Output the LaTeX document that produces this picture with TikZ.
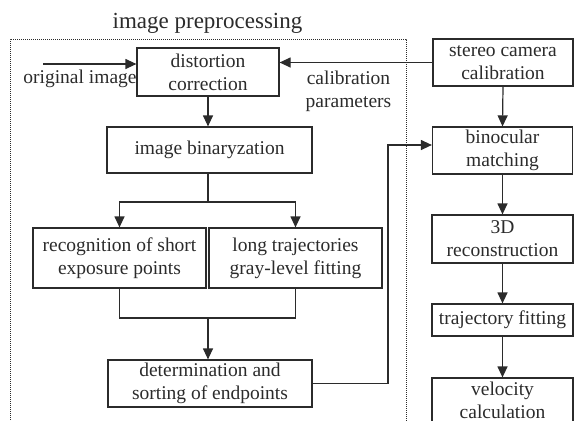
\documentclass[tikz,border=0pt]{standalone}
\usepackage{fontspec}
\setmainfont{Liberation Serif}
\usetikzlibrary{arrows.meta,calc}
\definecolor{ink}{HTML}{2B2B2B}
\begin{document}
\begin{tikzpicture}[x=1pt,y=-1pt,
  every node/.style={text=ink},
  box/.style={draw=ink,line width=1.2pt,inner sep=0pt,align=center,
    font=\fontsize{19.5}{23}\selectfont},
  lbl/.style={inner sep=0pt,align=center,font=\fontsize{19.5}{23}\selectfont},
  con/.style={draw=ink,line width=1.2pt},
  arr/.style={con,-{Triangle[length=11pt,width=10pt]}}]
\useasboundingbox (0,0) rectangle (574,421);
\clip (0,0) rectangle (574,421);
% dotted frame
\draw[ink,line width=1pt,dash pattern=on 1pt off 1pt] (10,440) -- (10,39) -- (406,39) -- (406,440);
\node[inner sep=0pt,font=\fontsize{23}{27}\selectfont] (title) at (207.5,23) {image preprocessing};
% nodes
\node[box,minimum width=142pt,minimum height=48pt] (dist) at (208,72) {distortion\\correction};
\node[box,minimum width=140pt,minimum height=47pt] (stereo) at (503,62.5) {stereo camera\\calibration};
\node[box,minimum width=205pt,minimum height=46pt] (bin) at (209.5,150) {image binaryzation};
\node[box,minimum width=140pt,minimum height=47pt] (binoc) at (502.5,150.5) {binocular\\matching};
\node[box,minimum width=173pt,minimum height=60pt] (recog) at (119.5,258) {recognition of short\\exposure points};
\node[box,minimum width=173pt,minimum height=60pt] (longt) at (295.5,258) {long trajectories\\gray-level fitting};
\node[box,minimum width=204pt,minimum height=47pt] (det) at (210,383.5) {determination and\\sorting of endpoints};
\node[box,minimum width=141pt,minimum height=48pt] (recon) at (502.5,239) {3D\\reconstruction};
\node[box,minimum width=141pt,minimum height=32pt] (traj) at (502.5,320) {trajectory fitting};
\node[box,minimum width=141pt,minimum height=44pt] (vel) at (502.5,400) {velocity\\calculation};
% labels
\node[lbl] (oilbl) at (80,79) {original image};
\node[lbl] (cplbl) at (348.5,91.5) {calibration\\parameters};
% connectors
\coordinate (oi) at (43,64);
\draw[arr] (oi) -- (oi -| dist.west);
\draw[arr] (stereo.west) -- (stereo.west -| dist.east);
\draw[arr] (dist.south) -- (dist.south |- bin.north);
\coordinate (sp) at (208,202);
\draw[con] (sp |- bin.south) -- (sp);
\draw[arr] (sp) -| (recog.north);
\draw[arr] (sp) -| (longt.north);
\coordinate (mg) at (208,318);
\draw[con] (recog.south) |- (mg) -| (longt.south);
\draw[arr] (mg) -- (mg |- det.north);
\coordinate (jog) at (388,145);
\draw[arr] (det.east) -| (jog) -- (jog -| binoc.west);
\draw[arr] (stereo.south) -- (binoc.north);
\draw[arr] (binoc.south) -- (recon.north);
\draw[arr] (recon.south) -- (traj.north);
\draw[arr] (traj.south) -- (vel.north);
\end{tikzpicture}
\end{document}
